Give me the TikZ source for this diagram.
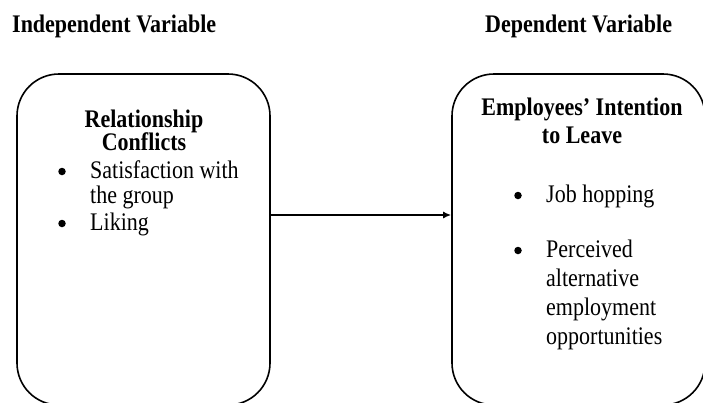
\documentclass[tikz,border=0pt]{standalone}
\usepackage{fontspec}
\setmainfont{Liberation Serif}
\usetikzlibrary{arrows.meta}
\begin{document}
\begin{tikzpicture}[x=1pt,y=-1pt,
    box/.style={draw, line width=1.6pt, rounded corners=42pt, minimum width=253pt, minimum height=331pt},
    txt/.style={inner sep=0pt, anchor=base west, yscale=1.15, transform shape, font=\fontsize{22}{26}\selectfont},
    hd/.style={txt, font=\fontsize{22}{26}\selectfont\bfseries},
    dot/.style={circle, fill, inner sep=0pt, minimum size=7.5pt}]
    \useasboundingbox (0,0) rectangle (703,402);
    \node[hd] (iv) at (12,32) {Independent Variable};
    \node[hd] (dv) at (485,32) {Dependent Variable};
    \node[box] (rc) at (143.5,239.5) {};
    \node[box] (il) at (578.5,239.5) {};
    % independent side
    \node[hd, anchor=base] (rc1) at (144,127) {Relationship};
    \node[hd, anchor=base] (rc2) at (144,150) {Conflicts};
    \node[dot] (b1) at (62,171.5) {};
    \node[txt] (sat1) at (90,178) {Satisfaction with};
    \node[txt] (sat2) at (90,203) {the group};
    \node[dot] (b2) at (62,223.5) {};
    \node[txt] (lik) at (90,230) {Liking};
    % dependent side
    \node[hd, anchor=base] (il1) at (582,115) {Employees’ Intention};
    \node[hd, anchor=base] (il2) at (582,143) {to Leave};
    \node[dot] (b3) at (518,195.5) {};
    \node[txt] (job) at (546,202) {Job hopping};
    \node[dot] (b4) at (518,250.5) {};
    \node[txt] (pa1) at (546,257) {Perceived};
    \node[txt] (pa2) at (546,286) {alternative};
    \node[txt] (pa3) at (546,315) {employment};
    \node[txt] (pa4) at (546,344) {opportunities};
    \draw[line width=1.6pt, -{Latex[length=8pt,width=7pt]}] ([yshift=24.5pt]rc.east) -- ([yshift=24.5pt]il.west);
\end{tikzpicture}
\end{document}
